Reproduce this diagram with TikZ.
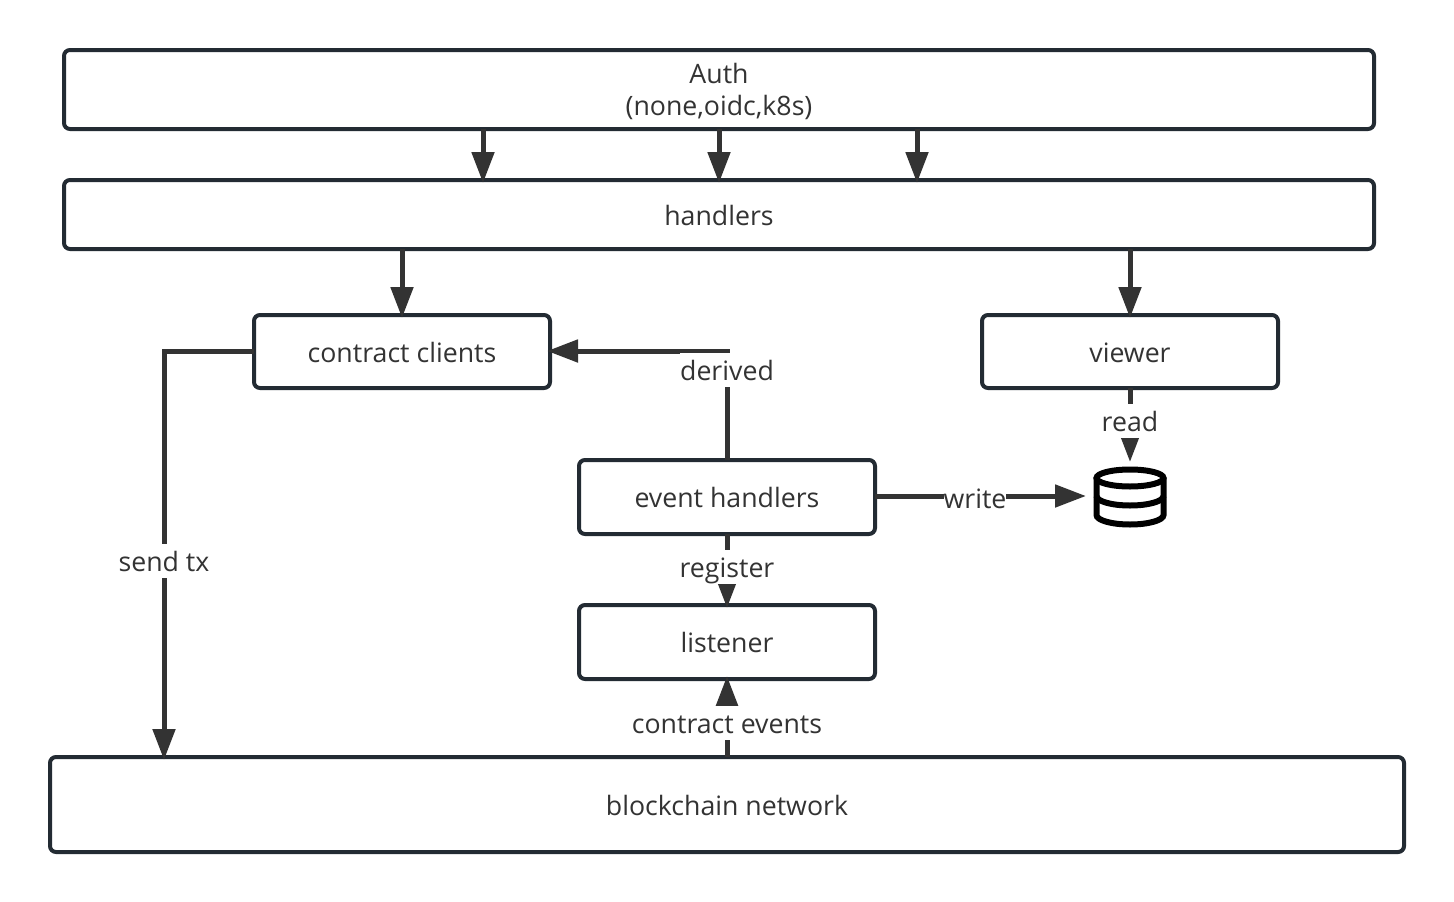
\documentclass[tikz,border=0pt]{standalone}
\usepackage{fontspec}
\setmainfont{Open Sans}
\usetikzlibrary{arrows.meta}
\definecolor{boxline}{HTML}{232B33}
\definecolor{flowline}{HTML}{333333}
\tikzset{
    box/.style={draw=boxline,fill=white,line width=4pt,rounded corners=6pt,outer sep=0pt,inner sep=0pt,align=center,text=flowline,font=\fontsize{26.7}{32}\selectfont},
    oneline/.style={text height=28pt,text depth=7pt},
    flow/.style={draw=flowline,line width=5pt,shorten >=-3pt,-{Triangle[length=31pt,width=22pt]}},
    flowlabel/.style={fill=white,text=flowline,inner xsep=0pt,inner ysep=0pt,text height=27pt,text depth=7pt,font=\fontsize{26.7}{32}\selectfont},
    dbline/.style={draw=black,line width=6pt},
}
\begin{document}
\begin{tikzpicture}[x=1pt,y=-1pt]
    \useasboundingbox[fill=white] (0,0) rectangle (1454,902);
    \node[box,minimum width=1310pt,minimum height=79pt] (auth) at (719,89.5) {\rule{0pt}{24pt}Auth\\(none,oidc,k8s)};
    \node[box,oneline,minimum width=1310pt,minimum height=69pt] (handlers) at (719,214.5) {handlers};
    \node[box,oneline,minimum width=296pt,minimum height=73pt] (clients) at (402,351.5) {contract clients};
    \node[box,oneline,minimum width=296pt,minimum height=73pt] (viewer) at (1130,351.5) {viewer};
    \node[box,oneline,minimum width=296pt,minimum height=74pt] (evhandlers) at (727,497) {event handlers};
    \node[box,oneline,minimum width=296pt,minimum height=74pt] (listener) at (727,642) {listener};
    \node[box,oneline,minimum width=1354pt,minimum height=95pt] (chain) at (727,804.5) {blockchain network};
    \node[minimum width=72pt,minimum height=60pt,inner sep=0pt,outer sep=0pt] (db) at (1130,497) {};
    \coordinate (a1) at (483,155);
    \coordinate (a2) at (719,155);
    \coordinate (a3) at (917,155);
    \coordinate (tx) at (164,560);
    \coordinate (wr) at (900,496);
    \coordinate (corner) at (727,351);

    \draw[flow] (auth.south -| a1) -- (handlers.north -| a1);
    \draw[flow] (auth.south -| a2) -- (handlers.north -| a2);
    \draw[flow] (auth.south -| a3) -- (handlers.north -| a3);
    \draw[flow] (handlers.south -| clients.north) -- (clients.north);
    \draw[flow] (handlers.south -| viewer.north) -- (viewer.north);
    \draw[flow] (clients.west) -- (clients.west -| tx) -- (chain.north -| tx);
    \draw[flow] (evhandlers.north) -- (corner) -- (corner -| clients.east);
    \draw[flow] (evhandlers.south) -- (listener.north);
    \draw[flow] (chain.north -| listener.south) -- (listener.south);
    \draw[flow] (evhandlers.east |- wr) -- ([xshift=-11pt]db.west |- wr);
    \draw[flow] (viewer.south) -- ([yshift=8pt]db.north);

    \node[flowlabel] (txlabel) at (164,561) {send tx};
    \node[flowlabel] (derivedlabel) at (727,370) {derived};
    \node[flowlabel] (readlabel) at (1130,421) {read};
    \node[flowlabel] (writelabel) at (975,498) {write};
    \node[flowlabel] (registerlabel) at (727,567) {register};
    \node[flowlabel] (eventslabel) at (727,723) {contract events};

    \draw[dbline] (1130,478) ellipse (33.5 and 8.5);
    \draw[dbline,line cap=round] (1096.5,478) -- (1096.5,515) arc[start angle=180,end angle=0,x radius=33.5,y radius=9.5] -- (1163.5,478);
    \draw[dbline] (1096.5,496) arc[start angle=180,end angle=0,x radius=33.5,y radius=9.5];
\end{tikzpicture}
\end{document}
